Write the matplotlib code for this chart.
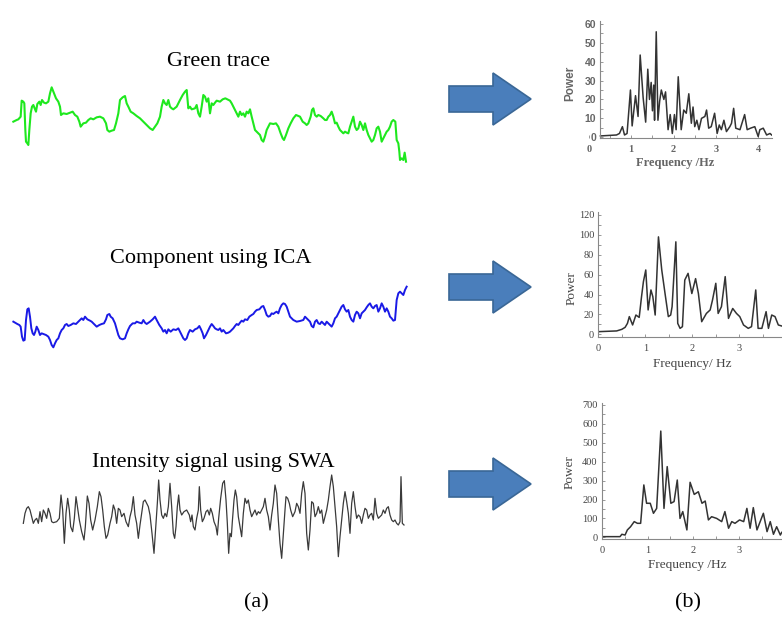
import numpy as np
import matplotlib
matplotlib.use("Agg")
import matplotlib.pyplot as plt
from matplotlib.patches import Polygon
from matplotlib.ticker import MultipleLocator

# ---- raw traces (sample, level; level grows downward) ----
green = [(40,125),(50,120),(55,118),(62,110),(65,62),(70,65),(73,70),(76,150),(78,185),(82,190),
         (85,195),(88,150),(92,100),(96,80),(100,75),(104,85),(108,95),(112,72),(118,65),(122,75),
         (126,60),(132,68),(138,70),(145,65),(150,40),(155,22),(160,35),(168,55),(175,65),(180,80),
         (183,105),(190,100),(200,102),(210,98),(218,95),(225,105),(232,110),(238,125),(242,140),(250,130),
         (258,128),(265,120),(272,115),(280,118),(290,112),(300,110),(310,115),(318,130),(322,150),(328,155),
         (335,152),(342,150),(348,130),(355,100),(360,60),(368,52),(375,48),(380,70),(385,80),(392,95),
         (400,100),(410,108),(420,115),(430,125),(440,135),(450,145),(458,150),(465,140),(472,130),(480,110),
         (485,80),(490,60),(495,70),(500,75),(505,60),(510,80),(515,85),(520,88),(530,80),(540,60),
         (548,45),(555,35),(560,30),(565,85),(570,80),(575,88),(585,85),(590,75),(595,100),(600,110),
         (605,80),(610,45),(615,50),(620,65),(625,55),(630,100),(635,70),(640,75),(645,68),(650,62),
         (660,65),(668,58),(676,55),(682,58),(690,62),(695,70),(700,80),(705,90),(710,100),(715,110),
         (720,95),(725,105),(730,100),(735,110),(740,95),(745,100),(750,88),(755,110),(760,130),(765,150),
         (770,155),(780,165),(785,180),(790,185),(795,170),(800,150),(805,140),(810,130),(820,132),(828,130),
         (835,140),(842,160),(848,175),(852,180),(858,165),(865,145),(872,130),(880,115),(888,105),(895,108),
         (900,110),(908,125),(915,130),(920,135),(925,130),(932,110),(936,90),(940,85),(945,105),(950,110),
         (955,105),(962,108),(970,115),(975,120),(980,120),(985,110),(990,105),(995,95),(1000,110),(1005,130),
         (1010,128),(1015,140),(1020,150),(1025,155),(1030,160),(1035,155),(1040,158),(1045,160),(1050,140),(1055,125),
         (1060,110),(1065,140),(1070,150),(1075,145),(1080,125),(1085,135),(1090,150),(1095,130),(1100,150),(1105,165),
         (1110,175),(1115,185),(1120,180),(1125,165),(1130,145),(1135,140),(1140,155),(1145,185),(1150,175),(1155,165),
         (1160,155),(1165,150),(1170,140),(1175,125),(1180,120),(1186,125),(1190,180),(1195,190),(1198,215),(1200,240),
         (1205,235),(1210,240),(1214,218),(1218,245)]

ica = [(40,155),(45,158),(52,162),(58,165),(62,170),(66,200),(70,212),(74,210),(78,150),(82,118),
       (86,115),(90,140),(94,175),(98,190),(102,195),(106,185),(110,170),(115,180),(120,195),(125,190),
       (130,192),(138,195),(145,200),(150,210),(155,225),(160,232),(165,220),(170,210),(175,205),(180,190),
       (185,180),(190,175),(195,165),(200,162),(205,168),(212,165),(220,160),(228,162),(235,155),(240,150),
       (245,145),(250,150),(255,140),(262,148),(270,152),(275,155),(280,160),(285,165),(290,170),(298,165),
       (305,162),(312,160),(318,148),(322,135),(328,132),(332,140),(338,145),(345,160),(350,178),(355,195),
       (360,205),(368,208),(375,205),(380,190),(385,178),(390,168),(398,160),(405,160),(410,155),(418,158),
       (425,160),(430,150),(435,158),(440,162),(450,155),(458,148),(465,140),(470,150),(478,165),(485,175),
       (490,185),(495,180),(500,190),(505,178),(512,185),(520,178),(528,180),(535,175),(540,185),(545,195),
       (550,205),(555,210),(560,205),(565,190),(570,180),(578,185),(585,178),(592,175),(598,168),(603,178),
       (608,190),(612,205),(618,195),(625,180),(630,170),(635,162),(640,168),(645,175),(650,178),(655,180),
       (660,175),(665,185),(670,180),(678,190),(685,188),(690,185),(695,180),(700,175),(705,168),(710,162),
       (715,165),(720,158),(725,152),(730,155),(735,148),(742,150),(748,140),(755,135),(760,132),(765,125),
       (770,120),(778,118),(785,110),(790,108),(795,120),(800,135),(805,140),(810,138),(815,130),(820,132),
       (825,128),(830,125),(835,130),(840,115),(845,105),(850,100),(855,102),(860,110),(865,125),(870,140),
       (880,150),(890,155),(900,153),(910,150),(915,140),(920,145),(925,150),(930,155),(935,168),(940,172),
       (945,155),(950,150),(955,160),(960,162),(965,155),(970,160),(975,165),(980,155),(985,160),(990,165),
       (995,170),(1000,160),(1005,145),(1010,140),(1015,130),(1020,120),(1025,110),(1030,105),(1035,118),(1040,125),
       (1045,120),(1050,140),(1055,150),(1060,155),(1065,135),(1070,125),(1075,130),(1080,145),(1085,130),(1090,125),
       (1095,120),(1100,112),(1105,105),(1110,100),(1115,110),(1120,115),(1125,108),(1130,105),(1135,125),(1140,115),
       (1145,100),(1150,110),(1155,125),(1160,115),(1165,125),(1170,140),(1175,145),(1180,152),(1185,150),(1190,90),
       (1195,70),(1200,65),(1205,70),(1210,75),(1215,60),(1220,50)]

swa = [(70,190),(75,160),(80,145),(85,140),(90,150),(95,170),(100,190),(105,180),(110,175),(115,190),
       (120,155),(125,185),(130,150),(135,160),(140,175),(145,145),(150,160),(155,185),(160,188),(170,185),
       (178,175),(183,105),(188,150),(193,250),(198,160),(203,115),(208,150),(212,200),(218,215),(223,175),
       (228,110),(233,145),(238,180),(245,215),(252,240),(256,200),(262,108),(267,130),(272,180),(278,210),
       (285,180),(292,140),(298,95),(303,110),(308,150),(313,200),(318,235),(323,225),(330,190),(335,170),
       (340,135),(345,150),(350,190),(355,145),(360,150),(365,170),(372,160),(378,185),(385,200),(390,170),
       (395,150),(400,110),(405,165),(410,190),(415,235),(420,195),(425,160),(430,125),(435,120),(440,130),
       (445,140),(450,165),(456,220),(462,280),(466,220),(472,130),(476,60),(480,120),(485,165),(490,175),
       (495,160),(500,170),(505,140),(510,70),(515,140),(520,220),(524,235),(528,200),(532,140),(536,105),
       (540,150),(545,165),(552,155),(560,150),(568,165),(572,185),(576,165),(580,200),(585,210),(590,175),
       (595,150),(598,80),(602,150),(607,185),(612,175),(618,155),(623,150),(628,165),(632,145),(637,160),
       (642,185),(648,200),(652,225),(656,175),(662,115),(668,70),(673,62),(678,120),(682,190),(686,280),
       (690,220),(694,230),(697,185),(702,120),(706,90),(710,110),(715,170),(720,200),(725,230),(730,160),
       (735,115),(740,130),(745,120),(750,150),(755,170),(760,160),(765,150),(770,165),(775,155),(780,160),
       (785,150),(790,140),(795,115),(800,150),(805,170),(810,210),(815,165),(820,130),(825,75),(830,100),
       (835,180),(840,250),(845,295),(850,220),(855,150),(858,110),(863,115),(868,130),(872,150),(878,170),
       (885,155),(890,130),(895,140),(900,160),(905,100),(910,65),(915,100),(920,220),(925,270),(930,210),
       (935,125),(940,130),(945,170),(950,160),(955,140),(960,160),(965,150),(970,190),(975,170),(980,150),
       (985,120),(990,80),(995,45),(1000,80),(1005,140),(1010,200),(1015,290),(1020,230),(1025,180),(1030,130),
       (1035,95),(1040,125),(1045,160),(1050,220),(1055,130),(1060,95),(1065,140),(1070,175),(1075,165),(1080,170),
       (1085,190),(1090,165),(1095,145),(1100,150),(1105,175),(1110,165),(1115,160),(1120,180),(1125,115),(1130,160),
       (1135,175),(1140,170),(1145,165),(1150,150),(1155,160),(1160,145),(1165,140),(1170,165),(1175,180),(1180,185),
       (1185,180),(1190,190),(1195,195),(1200,185),(1203,50),(1207,190),(1212,195)]

# ---- spectra ----
f1 = [0.27,0.65,0.72,0.79,0.84,0.90,0.98,1.02,1.10,1.16,1.21,1.28,1.34,1.39,1.43,1.47,1.50,1.53,1.55,1.59,
      1.63,1.67,1.71,1.77,1.81,1.87,1.92,1.97,2.02,2.06,2.11,2.18,2.24,2.30,2.36,2.42,2.46,2.50,2.55,2.60,
      2.66,2.74,2.78,2.83,2.89,2.97,3.03,3.08,3.13,3.19,3.25,3.33,3.37,3.42,3.47,3.57,3.68,3.74,3.82,3.92,
      4.00,4.04,4.12,4.20,4.28,4.32]
p1 = [0.7,1.2,2,5.6,1.2,2,25,6,22,11,43.5,21,8,36,20,29,14,27.6,9,55.8,
      9,19,25,20,24,4,12,2,12,4,32,4,14.4,12.7,23,7.4,16,5.6,9,4,
      10,11,14.4,4.8,5.6,12.7,2,6.5,4,9,3,5.6,7.4,15.3,4.8,4,12,4,4.8,5.6,
      0.4,4,4.8,1.2,2,1.2]

f2 = [0.02,0.39,0.50,0.57,0.62,0.66,0.73,0.80,0.87,0.92,0.96,1.01,1.06,1.12,1.16,1.21,1.28,1.35,1.42,1.49,
      1.54,1.57,1.65,1.69,1.74,1.79,1.84,1.91,1.99,2.07,2.13,2.20,2.30,2.38,2.43,2.50,2.55,2.62,2.70,2.77,
      2.86,2.94,3.01,3.09,3.19,3.26,3.35,3.40,3.48,3.57,3.62,3.69,3.76,3.83,3.90]
p2 = [2.7,3.4,5,7,11,17.8,9.4,19.4,17,37.9,53,64.7,24.5,44.6,37.9,19.4,98,64.7,41,17.8,
      19.4,27.8,93,11,6,7.7,54.6,61.3,41,56,41,12.7,21,24.5,34.5,51.3,21,27.8,58,16,
      26,21,17.8,9.4,6,7.7,44.6,6,6,22.8,6,19.4,17.8,9.4,8.4]

f3 = [0,0.40,0.44,0.51,0.56,0.63,0.71,0.78,0.85,0.92,0.98,1.06,1.13,1.20,1.29,1.36,1.43,1.51,1.58,1.65,
      1.71,1.77,1.86,1.93,2.02,2.11,2.19,2.26,2.33,2.40,2.51,2.62,2.69,2.77,2.84,2.91,3.01,3.10,3.17,3.24,
      3.31,3.39,3.46,3.53,3.61,3.68,3.75,3.82,3.90,3.93]
p3 = [3.5,3.5,16,12,39,56,83,74,74,277,180,180,127,153,562,153,374,180,189,303,
      100,136,39,291,227,241,180,192,92,109,100,83,136,48,83,74,92,83,153,48,
      157,39,83,127,30,83,16,56,12,26]

titles = ["Green trace", "Component using ICA", "Intensity signal using SWA"]

W, H = 782, 632
fig = plt.figure(figsize=(W / 100, H / 100), dpi=100)
SERIF = "Liberation Serif"
SANS = "Liberation Sans"


def box(x0, y0, x1, y1):
    return [x0 / W, 1 - y1 / H, (x1 - x0) / W, (y1 - y0) / H]


def ftext(x, y, s, **kw):
    fig.text(x / W, 1 - y / H, s, ha="center", va="center", **kw)


def trace(pts, y0, y1, color, lw):
    ax = fig.add_axes(box(0, y0, 420, y1))
    t, v = zip(*pts)
    ax.plot(t, v, color=color, lw=lw, solid_joinstyle="round")
    ax.set_xlim(0, 1260)
    ax.set_ylim((y1 - y0) * 3, 0)
    ax.axis("off")


trace(green, 80, 170, "#1ee81e", 1.5)
trace(ica, 270, 350, "#1a1ae6", 1.4)
trace(swa, 460, 570, "#3a3a3a", 0.9)

ftext(218, 62, titles[0], family=SERIF, size=16)
ftext(211, 258, titles[1], family=SERIF, size=16)
ftext(213, 463, titles[2], family=SERIF, size=16)
ftext(256, 603, "(a)", family=SERIF, size=16)
ftext(688, 603, "(b)", family=SERIF, size=16)

# arrows
over = fig.add_axes([0, 0, 1, 1], zorder=-1)
over.set_xlim(0, W)
over.set_ylim(H, 0)
over.axis("off")
for cy in (99, 287, 484):
    shape = [(449, cy - 13), (493, cy - 13), (493, cy - 26), (531, cy),
             (493, cy + 26), (493, cy + 13), (449, cy + 13)]
    over.add_patch(Polygon(shape, closed=True, fc="#4a7ebb", ec="#3a6796", lw=1.2))


def spectrum(f, p, rect, xlim, ylim, ystep, yminor, left_at, tickfont, col):
    ax = fig.add_axes(box(*rect))
    ax.plot(f, p, color="#333333", lw=1.1)
    ax.set_xlim(*xlim)
    ax.set_ylim(*ylim)
    for s in ("top", "right"):
        ax.spines[s].set_visible(False)
    for s in ("left", "bottom"):
        ax.spines[s].set_color("#888888")
        ax.spines[s].set_linewidth(0.8)
    ax.spines["left"].set_position(("data", left_at))
    ax.spines["bottom"].set_bounds(left_at, xlim[1])
    ax.xaxis.set_major_locator(MultipleLocator(1))
    ax.xaxis.set_minor_locator(MultipleLocator(0.5))
    ax.yaxis.set_major_locator(MultipleLocator(ystep))
    ax.yaxis.set_minor_locator(MultipleLocator(yminor))
    ax.tick_params(which="both", direction="in", color="#888888", length=2, width=0.6)
    ax.tick_params(axis="x", pad=5)
    ax.tick_params(axis="y", pad=3)
    for lab in ax.get_xticklabels():
        lab.set_fontproperties(tickfont[0])
        lab.set_color(col)
    for lab in ax.get_yticklabels():
        lab.set_fontproperties(tickfont[1])
        lab.set_color(col)
    ax.patch.set_alpha(0)
    return ax


from matplotlib.font_manager import FontProperties
fp_serif_b = FontProperties(family=SERIF, weight="bold", size=7.5)
fp_sans_b = FontProperties(family=SANS, weight="bold", size=7.5)
fp_serif = FontProperties(family=SERIF, size=7.5)

spectrum(f1, p1, (589, 21, 771.7, 138.2), (0, 4.32), (-0.5, 61.5), 10, 5, 0.27,
         (fp_serif_b, fp_sans_b), "#666666")
ftext(570, 83, "Power", family=SANS, weight="bold", size=8.5, color="#666666", rotation=90)
ftext(675, 163, "Frequency /Hz", family=SERIF, weight="bold", size=9, color="#666666")

spectrum(f2, p2, (598.3, 212, 781.6, 337.3), (0, 3.9), (-3, 123), 20, 10, 0,
         (fp_serif, fp_serif), "#444444")
ftext(572, 288, "Power", family=SERIF, size=9.5, color="#444444", rotation=90)
ftext(692, 364, "Frequency/ Hz", family=SERIF, size=9.5, color="#444444")

spectrum(f3, p3, (601.7, 403.1, 781.7, 539.2), (0, 3.93), (-10, 710), 100, 50, 0,
         (fp_serif, fp_serif), "#444444")
ftext(570, 472, "Power", family=SERIF, size=9.5, color="#444444", rotation=90)
ftext(687, 565, "Frequency /Hz", family=SERIF, size=9.5, color="#444444")

fig.savefig("out.png", dpi=100)
